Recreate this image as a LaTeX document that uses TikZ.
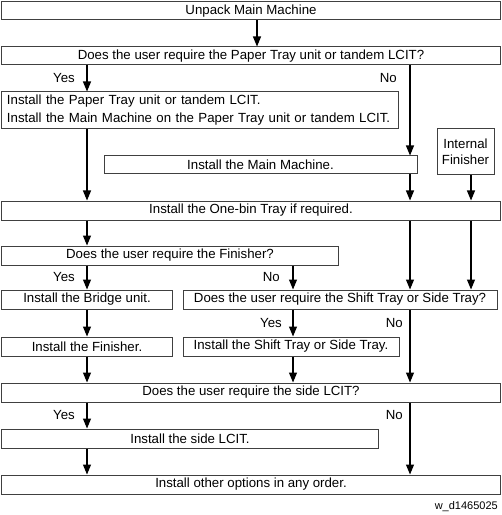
\documentclass[tikz,border=0pt]{standalone}
\usepackage{fontspec}
\setmainfont{Liberation Sans}
\usetikzlibrary{arrows.meta}
\newcommand\fsz{\fontsize{13.25bp}{16bp}\selectfont}
\begin{document}
\begin{tikzpicture}[x=1bp,y=-1bp,
  box/.style={draw=black!75, line width=1bp, inner sep=0pt, font=\fsz, align=center},
  arr/.style={-{Triangle[width=8bp,length=10bp]}, line width=1.1bp, black},
  lbl/.style={font=\fsz, inner sep=0pt}]
\useasboundingbox (0,0) rectangle (502,515);
\fill[white] (0,0) rectangle (502,515);
\coordinate (xm) at (257,0);
\coordinate (xa) at (87,0);
\coordinate (xb) at (293,0);
\coordinate (xc) at (410,0);
\coordinate (xd) at (471,0);
% boxes
\node[box, minimum width=498bp, minimum height=18bp] (b1) at (251,11) {Unpack Main Machine};
\node[box, minimum width=498bp, minimum height=18bp] (b2) at (251,56) {Does the user require the Paper Tray unit or tandem LCIT?};
\node[box, minimum width=396bp, minimum height=37bp, text width=386bp, align=left, font=\fontsize{13.25bp}{18bp}\selectfont] (b3) at (200,110.5) {Install the Paper Tray unit or tandem LCIT.\\Install the Main Machine on the Paper Tray unit or tandem LCIT.};
\node[box, minimum width=57bp, minimum height=46bp] (bif) at (465.5,152) {Internal\\Finisher};
\node[box, minimum width=313bp, minimum height=18bp] (bmm) at (260.5,165) {Install the Main Machine.};
\node[box, minimum width=498bp, minimum height=19bp] (b4) at (251,210.5) {Install the One-bin Tray if required.};
\node[box, minimum width=336bp, minimum height=19bp] (b5) at (170,255.5) {Does the user require the Finisher?};
\node[box, minimum width=170bp, minimum height=19bp] (b6) at (87,299.5) {Install the Bridge unit.};
\node[box, minimum width=314bp, minimum height=19bp] (b7) at (340,299.5) {Does the user require the Shift Tray or Side Tray?};
\node[box, minimum width=170bp, minimum height=19bp] (b8) at (87,346.5) {Install the Finisher.};
\node[box, minimum width=216bp, minimum height=19bp] (b9) at (291,346.5) {Install the Shift Tray or Side Tray.};
\node[box, minimum width=498bp, minimum height=19bp] (b10) at (251,392.5) {Does the user require the side LCIT?};
\node[box, minimum width=376bp, minimum height=19bp] (b11) at (190,438.5) {Install the side LCIT.};
\node[box, minimum width=498bp, minimum height=19bp] (b12) at (251,484.5) {Install other options in any order.};
\node[lbl, anchor=east] (wd) at (498,507) {\fontsize{11bp}{13bp}\selectfont w\_d1465025};
% connectors
\draw[arr] (xm |- b1.south) -- (xm |- b2.north);
\draw[arr] (xa |- b2.south) -- (xa |- b3.north);
\draw[arr] (xc |- b2.south) -- (xc |- bmm.north);
\draw[arr] (xa |- b3.south) -- (xa |- b4.north);
\draw[arr] (xc |- bmm.south) -- (xc |- b4.north);
\draw[arr] (xd |- bif.south) -- (xd |- b4.north);
\draw[arr] (xa |- b4.south) -- (xa |- b5.north);
\draw[arr] (xc |- b4.south) -- (xc |- b7.north);
\draw[arr] (xd |- b4.south) -- (xd |- b7.north);
\draw[arr] (xa |- b5.south) -- (xa |- b6.north);
\draw[arr] (xb |- b5.south) -- (xb |- b7.north);
\draw[arr] (xa |- b6.south) -- (xa |- b8.north);
\draw[arr] (xb |- b7.south) -- (xb |- b9.north);
\draw[arr] (xc |- b7.south) -- (xc |- b10.north);
\draw[arr] (xa |- b8.south) -- (xa |- b10.north);
\draw[arr] (xb |- b9.south) -- (xb |- b10.north);
\draw[arr] (xa |- b10.south) -- (xa |- b11.north);
\draw[arr] (xc |- b10.south) -- (xc |- b12.north);
\draw[arr] (xa |- b11.south) -- (xa |- b12.north);
% labels
\node[lbl, anchor=east] (y1) at (75,78.5) {Yes};
\node[lbl, anchor=east] (n1) at (397,78.5) {No};
\node[lbl, anchor=east] (y2) at (75,277.5) {Yes};
\node[lbl, anchor=east] (n2) at (280,277.5) {No};
\node[lbl, anchor=east] (y3) at (282,323) {Yes};
\node[lbl, anchor=east] (n3) at (403,323) {No};
\node[lbl, anchor=east] (y4) at (75,415.5) {Yes};
\node[lbl, anchor=east] (n4) at (403,415.5) {No};
\end{tikzpicture}
\end{document}
